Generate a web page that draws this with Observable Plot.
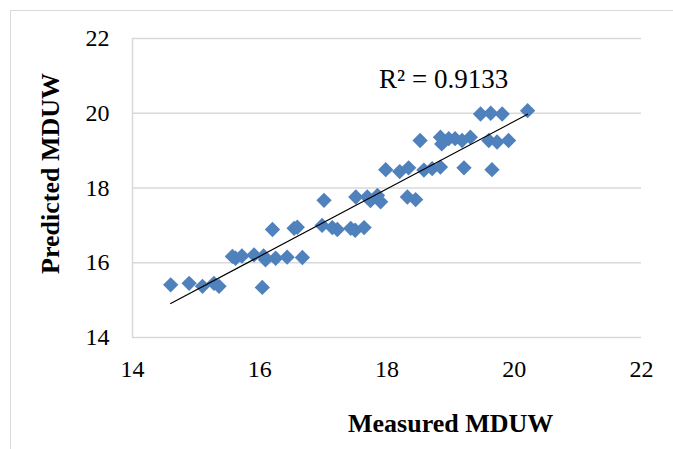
<!DOCTYPE html>
<html>
<head>
<meta charset="utf-8">
<script src="https://cdn.jsdelivr.net/npm/d3@7"></script>
<script src="https://cdn.jsdelivr.net/npm/@observablehq/plot@0.6"></script>
<style>
  html, body { margin: 0; padding: 0; background: #fff; }
  #wrap { position: relative; width: 673px; height: 449px; overflow: hidden; }
  #border { position: absolute; left: 10px; top: 10px; width: 700px; height: 500px;
            border-left: 1.5px solid #d9d9d9; border-top: 1.5px solid #d9d9d9; }
  #chart { position: absolute; left: 0; top: 0; }
</style>
</head>
<body>
<div id="wrap"><div id="border"></div><div id="chart"></div></div>
<script>
// Measured vs. predicted maximum dry unit weight (MDUW)
const measured = [
  14.60, 14.89, 15.10, 15.28, 15.36, 16.04, 15.57, 15.62, 15.72, 15.91,
  16.06, 16.09, 16.25, 16.43, 16.67, 16.20, 16.54, 16.59, 17.01, 16.98,
  17.14, 17.22, 17.43, 17.50, 17.64, 17.51, 17.69, 17.85, 17.90, 17.74,
  17.98, 18.20, 18.34, 18.32, 18.45, 18.58, 18.71, 18.84, 19.21, 19.65,
  18.52, 18.84, 18.86, 18.97, 19.07, 19.18, 19.31, 19.60, 19.73, 19.91,
  19.47, 19.63, 19.81, 20.21
];
const predicted = [
  15.41, 15.45, 15.37, 15.45, 15.37, 15.34, 16.17, 16.12, 16.18, 16.21,
  16.18, 16.08, 16.12, 16.15, 16.14, 16.89, 16.92, 16.95, 17.67, 17.00,
  16.94, 16.89, 16.92, 16.87, 16.94, 17.76, 17.76, 17.80, 17.63, 17.66,
  18.49, 18.44, 18.54, 17.76, 17.69, 18.48, 18.52, 18.56, 18.54, 18.49,
  19.27, 19.36, 19.18, 19.32, 19.32, 19.27, 19.36, 19.27, 19.23, 19.27,
  19.98, 20.00, 19.98, 20.07
];
const ticks = [14, 16, 18, 20, 22];
const gridTicks = [16, 18, 20, 22];
const r2Label = "R² = 0.9133";
const xTitle = "Measured MDUW";
const yTitle = "Predicted MDUW";

const data = measured.map((m, i) => ({measured: m, predicted: predicted[i]}));

const serif = "'Liberation Serif', 'Times New Roman', serif";

const chart = Plot.plot({
  width: 673,
  height: 449,
  marginLeft: 132,
  marginRight: 32,
  marginTop: 38,
  marginBottom: 112,
  style: {fontFamily: serif, fontSize: "24px", background: "transparent", color: "#000"},
  x: {domain: [14, 22]},
  y: {domain: [14, 22]},
  marks: [
    Plot.gridY(gridTicks, {stroke: "#d9d9d9", strokeOpacity: 1, strokeWidth: 1.5}),
    Plot.ruleX([14], {stroke: "#d9d9d9", strokeWidth: 1.5}),
    Plot.ruleY([14], {stroke: "#d9d9d9", strokeWidth: 1.5}),
    Plot.axisX(ticks, {tickSize: 0, tickPadding: 22, label: null, fontSize: 24}),
    Plot.axisY(ticks, {tickSize: 0, tickPadding: 23, label: null, fontSize: 24}),
    Plot.dot(data, {
      x: "measured", y: "predicted", symbol: "diamond2", r: 6.9,
      fill: "#4f81bd", stroke: "none"
    }),
    Plot.linearRegressionY(data, {x: "measured", y: "predicted", ci: 0, stroke: "#000", strokeWidth: 1.2}),
    Plot.text([r2Label], {x: 18.89, y: 20.9, text: d => d, fontSize: 27, fill: "#000"}),
    Plot.text([xTitle], {x: 19.0, frameAnchor: "bottom", dy: 86, text: d => d,
      textAnchor: "middle", lineAnchor: "middle",
      fontSize: 26, fontWeight: "bold", fill: "#000"}),
    Plot.text([yTitle], {y: 18.39, frameAnchor: "left", dx: -82, rotate: -90, text: d => d,
      textAnchor: "middle", lineAnchor: "middle",
      fontSize: 26, fontWeight: "bold", fill: "#000"})
  ]
});
document.getElementById("chart").appendChild(chart);
</script>
</body>
</html>
